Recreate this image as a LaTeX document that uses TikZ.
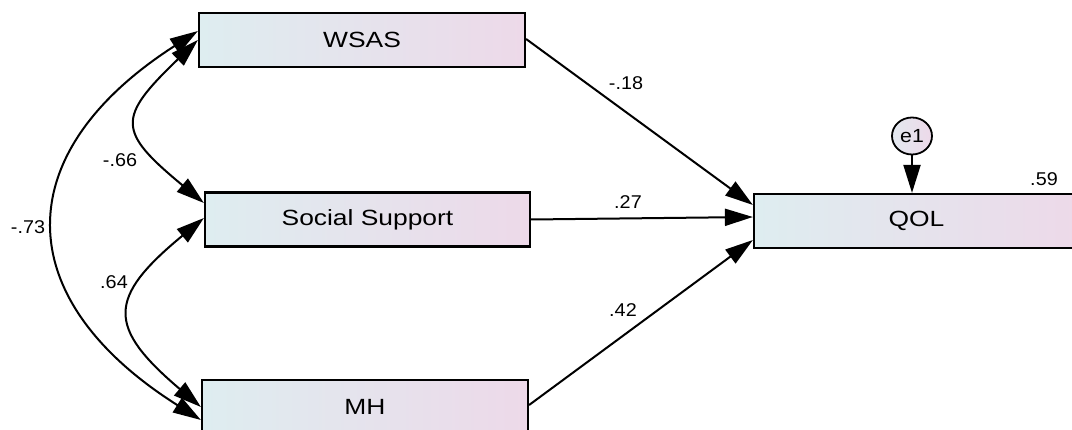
\documentclass[tikz,border=0pt]{standalone}
\usepackage{fontspec}
\setmainfont{Liberation Sans}
\usepackage{graphicx}
\usetikzlibrary{arrows.meta,shapes.geometric,calc}

% wide sans labels
\newcommand\vlabel[1]{\scalebox{1.2}[1]{#1}}
\newcommand\wlabel[1]{\scalebox{1.07}[1]{#1}}
\newcommand\elabel[1]{\scalebox{1.12}[1]{#1}}

\definecolor{boxleft}{HTML}{DEEDF0}
\definecolor{boxmid}{HTML}{E6E2EE}
\definecolor{boxright}{HTML}{EDD9E9}
\definecolor{errfill}{HTML}{E9E1EE}

\tikzset{
  >={Triangle[length=28pt,width=17pt]},
  varbox/.style={draw=black, line width=2.2pt, rectangle,
    minimum height=54pt, inner sep=0pt,
    left color=boxleft, middle color=boxmid, right color=boxright,
    font=\fontsize{22}{24}\selectfont},
  errnode/.style={draw=black, line width=1.8pt, ellipse,
    minimum width=40pt, minimum height=37pt, inner sep=0pt,
    left color=boxleft!60!errfill, right color=boxright, font=\fontsize{19}{21}\selectfont},
  coef/.style={inner sep=0pt, font=\fontsize{18.5}{20}\selectfont},
  regpath/.style={line width=2pt, ->},
  covpath/.style={line width=2pt, <->},
}

\begin{document}
\begin{tikzpicture}[x=1pt, y=-1pt]
  \useasboundingbox (0,0) rectangle (1072,430);
  \fill[white] (0,0) rectangle (1072,430);
  \clip (0,0) rectangle (1072,430);

  % observed variables
  \node[varbox, minimum width=326pt] (wsas) at (362,40)    {\vlabel{WSAS}};
  \node[varbox, minimum width=325pt] (ss)   at (367.5,219.5) {\vlabel{Social Support}};
  \node[varbox, minimum width=326pt] (mh)   at (365,407)   {\vlabel{MH}};
  \node[varbox, minimum width=325pt] (qol)  at (916.5,221) {\vlabel{QOL}};

  % residual
  \node[errnode] (e1) at (912,136) {\elabel{e1}};

  % anchor points on the box edges
  \coordinate (wsasR) at ($(wsas.east)+(0,-1)$);
  \coordinate (ssR)   at ($(ss.east)+(0,0)$);
  \coordinate (mhR)   at ($(mh.east)+(0,-2)$);
  \coordinate (qolA)  at ($(qol.west)+(0,-16)$);
  \coordinate (qolB)  at ($(qol.west)+(0,-4)$);
  \coordinate (qolC)  at ($(qol.west)+(0,19)$);

  \coordinate (wsasL1) at ($(wsas.west)+(0,-9)$);
  \coordinate (wsasL2) at ($(wsas.west)+(0,0)$);
  \coordinate (ssL1)   at ($(ss.west)+(0,-16.5)$);
  \coordinate (ssL2)   at ($(ss.west)+(0,-1.5)$);
  \coordinate (mhL1)   at ($(mh.west)+(0,0)$);
  \coordinate (mhL2)   at ($(mh.west)+(0,13)$);

  % regression paths
  \draw[regpath] (wsasR) -- (qolA);
  \draw[regpath] (ssR) -- (qolB);
  \draw[regpath] (mhR) -- (qolC);
  \draw[regpath] (e1.south) -- (qol.north -| e1.south);

  % covariances
  \draw[covpath] (wsasL1) .. controls +(-190,122) and +(-193,-122) .. (mhL2);
  \draw[covpath] (wsasL2) .. controls +(-81,78) and +(-87,-72) .. (ssL1);
  \draw[covpath] (ssL2) .. controls +(-97,80) and +(-94,-80) .. (mhL1);

  % coefficients
  \node[coef] (c1) at (626,83)  {\wlabel{-.18}};
  \node[coef] (c2) at (628,202) {\wlabel{.27}};
  \node[coef] (c3) at (623,310) {\wlabel{.42}};
  \node[coef] (c4) at (1044,179) {\wlabel{.59}};
  \node[coef] (c5) at (120,160) {\wlabel{-.66}};
  \node[coef] (c6) at (28,227)  {\wlabel{-.73}};
  \node[coef] (c7) at (114,282) {\wlabel{.64}};
\end{tikzpicture}
\end{document}
